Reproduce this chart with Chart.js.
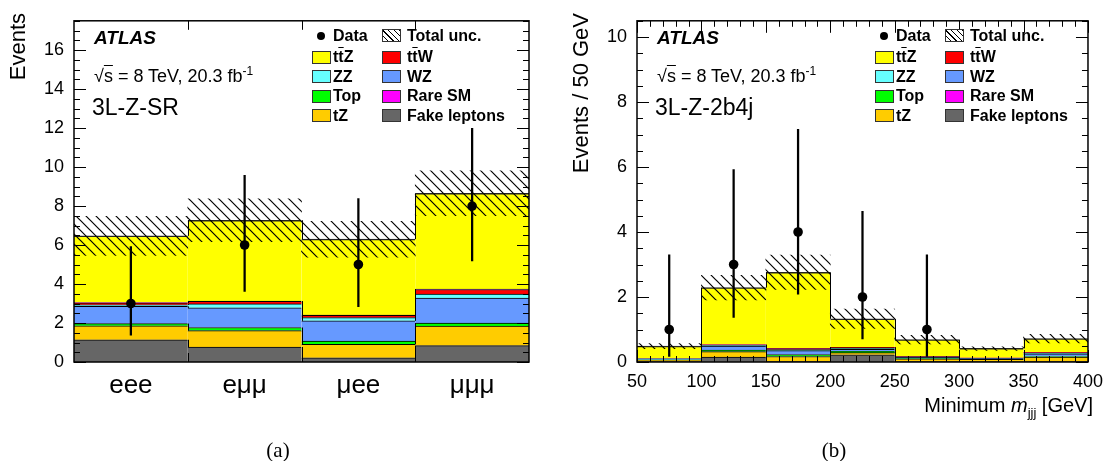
<!DOCTYPE html>
<html>
<head>
<meta charset="utf-8">
<script src="https://cdn.jsdelivr.net/npm/chart.js@4.4.0/dist/chart.umd.min.js"></script>
<style>
body{margin:0;background:#fff;font-family:'Liberation Sans',Arial,sans-serif;}
#wrap{position:relative;width:1112px;height:461px;overflow:hidden;background:#fff;}
canvas{position:absolute;top:0;}
.t{position:absolute;white-space:nowrap;color:#000;line-height:1;}
.ov{text-decoration:overline;}
.lg{position:absolute;font-weight:bold;font-size:16px;white-space:nowrap;line-height:1;color:#000;}
.box{position:absolute;width:19px;height:13px;border:1px solid #333;box-sizing:border-box;}
.dot{position:absolute;width:8px;height:8px;border-radius:50%;background:#000;}
.rot{position:absolute;white-space:nowrap;line-height:1;width:200px;text-align:right;transform-origin:left top;transform:rotate(-90deg);}
</style>
</head>
<body>
<div id="wrap">
<canvas id="chartA" width="556" height="461" style="left:0"></canvas>
<canvas id="chartB" width="556" height="461" style="left:556px"></canvas>
</div>
<script>
// (a) 3L-Z-SR, split by lepton flavour
var channels = ['eee', 'eμμ', 'μee', 'μμμ'];
var srFake = [1.14, 0.77, 0.22, 0.84];
var srTZ   = [0.72, 0.84, 0.68, 1.00];
var srTop  = [0.11, 0.16, 0.17, 0.16];
var srWZ   = [0.88, 1.01, 1.04, 1.28];
var srZZ   = [0.08, 0.20, 0.17, 0.20];
var srTTW  = [0.10, 0.13, 0.12, 0.24];
var srRare = [0.02, 0.01, 0.01, 0.02];
var srTTZ  = [3.42, 4.15, 3.89, 4.91];
var srUncLow  = [5.47, 6.17, 5.38, 7.50];
var srUncHigh = [7.47, 8.37, 7.22, 9.80];
var srData     = [3, 6, 5, 8];
var srDataLow  = [1.37, 3.62, 2.84, 5.19];
var srDataHigh = [5.92, 9.58, 8.38, 11.98];

// (b) 3L-Z-2b4j, minimum m_jjj in 50 GeV bins
var mjjjBins = [75, 125, 175, 225, 275, 325, 375];
var bFake = [0.03, 0.15, 0.02, 0.22, 0.02, 0.01, 0.02];
var bTZ   = [0.03, 0.17, 0.15, 0.07, 0.08, 0.07, 0.13];
var bTop  = [0.00, 0.05, 0.06, 0.04, 0.00, 0.00, 0.02];
var bWZ   = [0.04, 0.12, 0.12, 0.06, 0.04, 0.03, 0.08];
var bZZ   = [0.00, 0.02, 0.03, 0.03, 0.00, 0.00, 0.02];
var bTTW  = [0.00, 0.02, 0.03, 0.03, 0.03, 0.01, 0.02];
var bRare = [0.00, 0.00, 0.00, 0.00, 0.00, 0.00, 0.00];
var bTTZ  = [0.39, 1.76, 2.35, 0.88, 0.52, 0.30, 0.43];
var bUncLow  = [0.41, 1.91, 2.23, 1.03, 0.56, 0.36, 0.59];
var bUncHigh = [0.57, 2.67, 3.29, 1.63, 0.82, 0.47, 0.85];
var bDataX    = [75, 125, 175, 225, 275];
var bData     = [1, 3, 4, 2, 1];
var bDataLow  = [0.17, 1.37, 2.09, 0.71, 0.17];
var bDataHigh = [3.30, 5.92, 7.16, 4.64, 3.30];

var cTTZ = '#ffff00', cTTW = '#ff0000', cZZ = '#66ffff', cWZ = '#6699ff';
var cTop = '#00ff00', cRare = '#ff00ff', cTZ = '#ffcc00', cFake = '#666666';
var FONT = "'Liberation Sans', Arial, sans-serif";

function makeHatch(ctx) {
  var c = document.createElement('canvas');
  c.width = 10; c.height = 10;
  var g = c.getContext('2d');
  g.strokeStyle = '#000';
  g.lineWidth = 1.2;
  g.beginPath();
  g.moveTo(0, 0); g.lineTo(10, 10);
  g.moveTo(-1, 9); g.lineTo(1, 11);
  g.moveTo(9, -1); g.lineTo(11, 1);
  g.stroke();
  return ctx.createPattern(c, 'repeat');
}

// step outlines of the stacked histograms, inward ROOT-style ticks, frame
var frameTicks = {
  id: 'frameTicks',
  afterDatasetsDraw: function(chart, args, o) {
    var ctx = chart.ctx, a = chart.chartArea;
    var sx = chart.scales.x, sy = chart.scales.y;
    ctx.save();
    ctx.strokeStyle = '#000';
    ctx.lineWidth = 1;
    ctx.beginPath();
    chart.data.datasets.forEach(function(ds, k) {
      if (ds.stack !== 'mc') return;
      var els = chart.getDatasetMeta(k).data;
      for (var i = 0; i < els.length - 1; i++) {
        var edge = Math.round(els[i].x + els[i].width / 2) + 0.5;
        ctx.moveTo(edge, els[i].y);
        ctx.lineTo(edge, els[i + 1].y);
      }
    });
    o.xMarks.forEach(function(m) {
      var px = Math.round(sx.getPixelForValue(m[0])) + 0.5;
      ctx.moveTo(px, a.bottom); ctx.lineTo(px, a.bottom - m[1]);
      ctx.moveTo(px, a.top); ctx.lineTo(px, a.top + m[1]);
    });
    o.yMarks.forEach(function(m) {
      var py = Math.round(sy.getPixelForValue(m[0])) + 0.5;
      ctx.moveTo(a.left, py); ctx.lineTo(a.left + m[1], py);
      ctx.moveTo(a.right, py); ctx.lineTo(a.right - m[1], py);
    });
    ctx.stroke();
    ctx.lineWidth = 1.5;
    ctx.strokeRect(a.left, a.top, a.right - a.left, a.bottom - a.top);
    ctx.restore();
  }
};

function marks(from, to, step, majorEvery, majorLen, minorLen) {
  var out = [];
  for (var i = 0; from + i * step <= to + 1e-9; i++) {
    out.push([from + i * step, i % majorEvery === 0 ? majorLen : minorLen]);
  }
  return out;
}

function comp(label, data, color, xs) {
  return {
    type: 'bar', label: label, stack: 'mc', order: 3, grouped: false,
    data: xs ? data.map(function(v, i) { return {x: xs[i], y: v}; }) : data,
    backgroundColor: color,
    borderColor: label === 'ttZ' ? '#222' : '#000',
    borderWidth: {top: label === 'ttZ' ? 1.5 : 1, left: 0, right: 0, bottom: 0},
    borderSkipped: false,
    barPercentage: 1, categoryPercentage: 1
  };
}

function pairs(lo, hi, xs) {
  return lo.map(function(v, i) { return xs ? {x: xs[i], y: [v, hi[i]]} : [v, hi[i]]; });
}

function baseScales(yMax, yWidth) {
  return {
    y: {
      stacked: true, min: 0, max: yMax,
      grid: {display: false, drawTicks: false}, border: {display: false},
      ticks: {stepSize: 2, includeBounds: false, color: '#000', padding: 10, font: {family: FONT, size: 18}},
      afterFit: function(s) { s.width = yWidth; }
    }
  };
}

// ---------- chart (a)
var ctxA = document.getElementById('chartA').getContext('2d');
var hatchA = makeHatch(ctxA);
var scalesA = baseScales(17.5, 74);
scalesA.x = {
  type: 'category', offset: true,
  grid: {display: false, drawTicks: false}, border: {display: false},
  ticks: {color: '#000', padding: 8, maxRotation: 0, font: {family: FONT, size: 26}},
  afterFit: function(s) { s.height = 99; }
};
new Chart(ctxA, {
  type: 'bar',
  data: {
    labels: channels,
    datasets: [
      {type: 'line', label: 'Data', data: srData, order: 0, stack: 'pts', showLine: false,
       pointRadius: 4.8, pointBackgroundColor: '#000', pointBorderWidth: 0},
      {type: 'bar', label: 'err', data: pairs(srDataLow, srDataHigh), order: 1, stack: 'err', grouped: false,
       backgroundColor: '#000', borderWidth: 0, maxBarThickness: 1.6, barPercentage: 1, categoryPercentage: 1},
      {type: 'bar', label: 'Total unc.', data: pairs(srUncLow, srUncHigh), order: 2, stack: 'band', grouped: false,
       backgroundColor: hatchA, borderWidth: 0, barPercentage: 1, categoryPercentage: 1},
      comp('Fake leptons', srFake, cFake),
      comp('tZ', srTZ, cTZ),
      comp('Top', srTop, cTop),
      comp('WZ', srWZ, cWZ),
      comp('ZZ', srZZ, cZZ),
      comp('ttW', srTTW, cTTW),
      comp('Rare SM', srRare, cRare),
      comp('ttZ', srTTZ, cTTZ)
    ]
  },
  options: {
    responsive: false, animation: false,
    layout: {padding: {top: 14, right: 27, left: 0, bottom: 0}},
    plugins: {
      legend: {display: false}, tooltip: {enabled: false},
      frameTicks: {xMarks: [[0.5, 9], [1.5, 9], [2.5, 9]], yMarks: marks(0, 17.5, 0.5, 4, 12, 6)}
    },
    scales: scalesA
  },
  plugins: [frameTicks]
});

// ---------- chart (b)
var ctxB = document.getElementById('chartB').getContext('2d');
var hatchB = makeHatch(ctxB);
var scalesB = baseScales(10.5, 81);
scalesB.x = {
  type: 'linear', min: 50, max: 400, offset: false,
  grid: {display: false, drawTicks: false, offset: false}, border: {display: false},
  ticks: {stepSize: 50, color: '#000', padding: 9, maxRotation: 0, font: {family: FONT, size: 18}},
  afterFit: function(s) { s.height = 99; }
};
new Chart(ctxB, {
  type: 'bar',
  data: {
    datasets: [
      {type: 'line', label: 'Data', data: bData.map(function(v, i) { return {x: bDataX[i], y: v}; }),
       order: 0, stack: 'pts', showLine: false,
       pointRadius: 4.8, pointBackgroundColor: '#000', pointBorderWidth: 0},
      {type: 'bar', label: 'err', data: pairs(bDataLow, bDataHigh, bDataX), order: 1, stack: 'err', grouped: false,
       backgroundColor: '#000', borderWidth: 0, maxBarThickness: 1.6, barPercentage: 1, categoryPercentage: 1},
      {type: 'bar', label: 'Total unc.', data: pairs(bUncLow, bUncHigh, mjjjBins), order: 2, stack: 'band', grouped: false,
       backgroundColor: hatchB, borderWidth: 0, barPercentage: 1, categoryPercentage: 1},
      comp('Fake leptons', bFake, cFake, mjjjBins),
      comp('tZ', bTZ, cTZ, mjjjBins),
      comp('Top', bTop, cTop, mjjjBins),
      comp('WZ', bWZ, cWZ, mjjjBins),
      comp('ZZ', bZZ, cZZ, mjjjBins),
      comp('ttW', bTTW, cTTW, mjjjBins),
      comp('Rare SM', bRare, cRare, mjjjBins),
      comp('ttZ', bTTZ, cTTZ, mjjjBins)
    ]
  },
  options: {
    responsive: false, animation: false,
    layout: {padding: {top: 13, right: 19, left: 0, bottom: 0}},
    plugins: {
      legend: {display: false}, tooltip: {enabled: false},
      frameTicks: {xMarks: marks(50, 400, 10, 5, 12, 6), yMarks: marks(0, 10.5, 0.5, 4, 12, 6)}
    },
    scales: scalesB
  },
  plugins: [frameTicks]
});

// ---------- text overlays
var wrap = document.getElementById('wrap');
function addText(html, cls, style) {
  var d = document.createElement('div');
  d.className = cls;
  d.innerHTML = html;
  d.setAttribute('style', style);
  wrap.appendChild(d);
  return d;
}

var legendRows = [36, 57, 76.5, 96, 115.5];
var legendLeft = [['data', 'Data'], [cTTZ, 't<span class="ov">t</span>Z'], [cZZ, 'ZZ'], [cTop, 'Top'], [cTZ, 'tZ']];
var legendRight = [['unc', 'Total unc.'], [cTTW, 't<span class="ov">t</span>W'], [cWZ, 'WZ'], [cRare, 'Rare SM'], [cFake, 'Fake leptons']];

function legend(ox) {
  [[legendLeft, 238, 259], [legendRight, 308, 333]].forEach(function(col) {
    col[0].forEach(function(e, i) {
      var cy = legendRows[i];
      if (e[0] === 'data') {
        addText('', 'dot', 'left:' + (ox + col[1] + 5) + 'px;top:' + (cy - 4) + 'px;');
      } else if (e[0] === 'unc') {
        addText('', 'box', 'left:' + (ox + col[1]) + 'px;top:' + (cy - 7) + 'px;background:repeating-linear-gradient(45deg,#fff 0 3px,#000 3px 4px);');
      } else {
        addText('', 'box', 'left:' + (ox + col[1]) + 'px;top:' + (cy - 6.5) + 'px;background:' + e[0] + ';');
      }
      addText(e[1], 'lg', 'left:' + (ox + col[2]) + 'px;top:' + (cy - 7.8) + 'px;');
    });
  });
}

function labels(ox, region) {
  addText('ATLAS', 't', 'left:' + (ox + 20) + 'px;top:28px;font-size:19px;font-weight:bold;font-style:italic;');
  addText('√<span class="ov">s</span> = 8 TeV, 20.3 fb<sup style="font-size:12px;vertical-align:7px;">-1</sup>', 't',
          'left:' + (ox + 20) + 'px;top:65px;font-size:18px;');
  addText(region, 't', 'left:' + (ox + 18) + 'px;top:95.5px;font-size:23px;');
  legend(ox);
}

labels(74, '3L-Z-SR');
labels(637, '3L-Z-2b4j');

addText('Events', 'rot', 'left:7px;top:213px;font-size:22px;');
addText('Events / 50 GeV', 'rot', 'left:570px;top:213px;font-size:22px;');
addText('Minimum <i>m</i><sub style="font-size:13px;vertical-align:-5px;">jjj</sub> [GeV]', 't',
        'left:793px;top:395px;width:300px;text-align:right;font-size:20px;');
addText('(a)', 't', "left:228px;top:440px;width:100px;text-align:center;font-size:21px;font-family:'Liberation Serif',serif;");
addText('(b)', 't', "left:784px;top:440px;width:100px;text-align:center;font-size:21px;font-family:'Liberation Serif',serif;");
</script>
</body>
</html>
